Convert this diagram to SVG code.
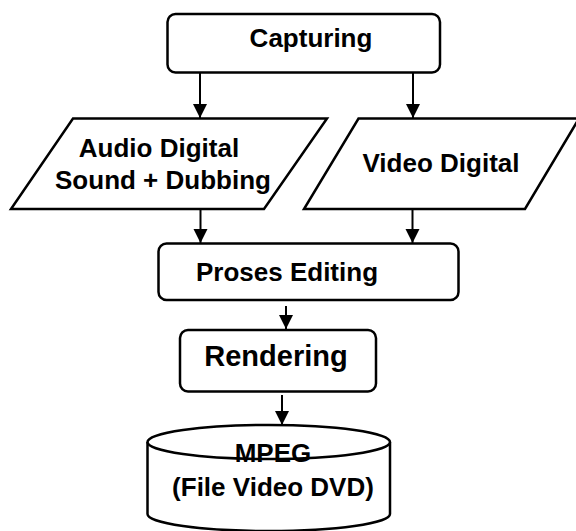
<svg xmlns="http://www.w3.org/2000/svg" width="576" height="531" viewBox="0 0 576 531">
<style>
.shape{fill:#fff;stroke:#000;stroke-width:2.5;stroke-linejoin:miter}
.conn{fill:none;stroke:#000;stroke-width:2}
text{font-family:"Liberation Sans",Arial,sans-serif;font-weight:bold;font-size:26px;fill:#000;text-anchor:middle}
</style>
<defs>
<marker id="arr" markerUnits="userSpaceOnUse" markerWidth="16" markerHeight="16" refX="14" refY="7" orient="auto">
<path d="M0,0 L14,7 L0,14 Z" fill="#000"/>
</marker>
</defs>
<rect width="576" height="531" fill="#fff"/>
<g id="connectors">
<line class="conn" x1="200" y1="72" x2="200" y2="118" marker-end="url(#arr)"/>
<line class="conn" x1="413" y1="72" x2="413" y2="118" marker-end="url(#arr)"/>
<line class="conn" x1="200.5" y1="209" x2="200.5" y2="243" marker-end="url(#arr)"/>
<line class="conn" x1="412.5" y1="209" x2="412.5" y2="243" marker-end="url(#arr)"/>
<line class="conn" x1="286" y1="306" x2="286" y2="329" marker-end="url(#arr)"/>
<line class="conn" x1="282" y1="395" x2="282" y2="425" marker-end="url(#arr)"/>
</g>
<g id="capturing">
<rect class="shape" x="167.5" y="14" width="272.5" height="58.5" rx="8"/>
<text x="311" y="47">Capturing</text>
</g>
<g id="audio">
<polygon class="shape" points="73,118.5 327,118.5 264,209 11,209"/>
<text x="159" y="157">Audio Digital</text>
<text x="163" y="189">Sound + Dubbing</text>
</g>
<g id="video">
<polygon class="shape" points="358.5,118.5 579,118.5 525,209 304,209"/>
<text x="441" y="172">Video Digital</text>
</g>
<g id="proses">
<rect class="shape" x="158.5" y="243.5" width="300" height="56.5" rx="8"/>
<text x="287" y="281">Proses Editing</text>
</g>
<g id="rendering">
<rect class="shape" x="180" y="330" width="196" height="61.5" rx="8"/>
<text x="276" y="366" style="font-size:29px">Rendering</text>
</g>
<g id="mpeg">
<path class="shape" d="M147.5,442 V514 A121.25,17 0 0 0 390,514 V442"/>
<ellipse class="shape" cx="268.75" cy="442" rx="121.25" ry="17"/>
<text x="273" y="462">MPEG</text>
<text x="273" y="496">(File Video DVD)</text>
</g>
</svg>
